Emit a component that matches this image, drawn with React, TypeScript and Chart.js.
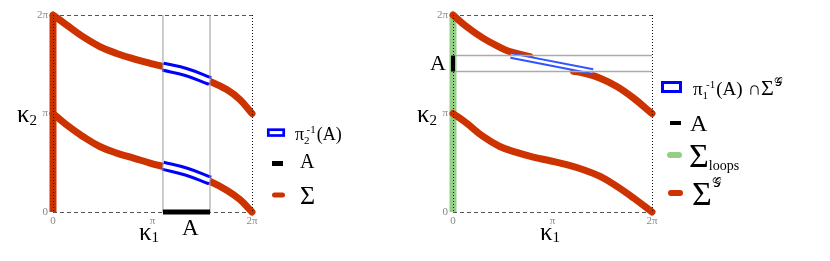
import React, { useEffect, useRef } from "react";
import { Chart, registerables } from "chart.js";
Chart.register(...registerables);

const SERIF = '"Liberation Serif", "Times New Roman", Times, serif';
const RED = "#cc3300";
const BLUE = "#0000ff";
const BLUE2 = "#2f55ff";
const GREEN = "#93cf84";
const GRAY = "#aaaaaa";

// all values are in units of π
const tickValues = [0, 1, 2];
const tickLabels = ["0", "π", "2π"];

// ---- left panel ----
const leftX = [0, 0.135, 0.3, 0.47, 0.64, 0.81, 0.975, 1.11, 1.31, 1.58, 1.75, 1.88, 2.0];
const leftUpperY = [2.0, 1.9, 1.78, 1.68, 1.61, 1.555, 1.51, 1.477, 1.426, 1.325, 1.24, 1.14, 1.0];
const leftLowerY = [1.0, 0.885, 0.767, 0.665, 0.598, 0.548, 0.497, 0.462, 0.412, 0.31, 0.219, 0.125, 0.0];
const leftA = [1.105, 1.578];
const leftBandX = [1.105, 1.34, 1.578];
const leftBandUpperY = [1.476, 1.42, 1.33];
const leftBandLowerY = [0.47, 0.41, 0.32];

// ---- right panel ----
const rightUpperAX = [0, 0.135, 0.302, 0.47, 0.571, 0.773];
const rightUpperAY = [2.0, 1.883, 1.765, 1.673, 1.629, 1.578];
const rightUpperBX = [1.21, 1.31, 1.479, 1.647, 1.815, 2.0];
const rightUpperBY = [1.429, 1.41, 1.359, 1.274, 1.156, 1.0];
const rightLowerX = [0, 0.135, 0.302, 0.47, 0.638, 0.806, 0.974, 1.142, 1.31, 1.479, 1.647, 1.815, 2.0];
const rightLowerY = [1.0, 0.903, 0.767, 0.665, 0.605, 0.558, 0.52, 0.48, 0.429, 0.361, 0.26, 0.142, 0.0];
const rightA = [1.426, 1.588];
const rightBandX = [0.581, 1.405];
const rightBandY = [1.588, 1.426];

const pts = (xs: number[], ys: number[]) => xs.map((x, i) => ({ x, y: ys[i] }));

function line(data: any[], color: string, width: number, order: number, opts: any = {}) {
  return {
    type: "line",
    data,
    borderColor: color,
    backgroundColor: color,
    borderWidth: width,
    pointRadius: 0,
    pointHoverRadius: 0,
    fill: false,
    clip: false,
    order,
    tension: 0,
    borderCapStyle: "butt",
    ...opts,
  };
}
const curve = (data: any[], order: number) =>
  line(data, RED, 7, order, { tension: 0.4, borderCapStyle: "round" });

type Run = { t: string; size: number; dy?: number; dx?: number };
function runs(ctx: CanvasRenderingContext2D, x: number, y: number, list: Run[], color = "#000") {
  ctx.save();
  ctx.fillStyle = color;
  ctx.textBaseline = "alphabetic";
  ctx.textAlign = "left";
  let cx = x;
  for (const r of list) {
    ctx.font = `${r.size}px ${SERIF}`;
    cx += r.dx ?? 0;
    ctx.fillText(r.t, cx, y + (r.dy ?? 0));
    cx += ctx.measureText(r.t).width;
  }
  ctx.restore();
}

function markLine(ctx: CanvasRenderingContext2D, x1: number, x2: number, y: number, w: number, color: string) {
  ctx.save();
  ctx.strokeStyle = color;
  ctx.lineWidth = w;
  ctx.lineCap = "round";
  ctx.beginPath();
  ctx.moveTo(x1, y);
  ctx.lineTo(x2, y);
  ctx.stroke();
  ctx.restore();
}

function makeDecor(extra: (ctx: CanvasRenderingContext2D, chart: any) => void) {
  return {
    id: "decor",
    beforeDatasetsDraw(chart: any) {
      const { ctx, chartArea } = chart;
      const { left, right, top, bottom } = chartArea;
      ctx.save();
      ctx.strokeStyle = "#555";
      ctx.lineWidth = 1;
      ctx.setLineDash([4, 3]);
      ctx.beginPath();
      ctx.moveTo(left, Math.round(top) + 0.5);
      ctx.lineTo(right, Math.round(top) + 0.5);
      ctx.moveTo(left, Math.round(bottom) + 0.5);
      ctx.lineTo(right, Math.round(bottom) + 0.5);
      ctx.stroke();
      ctx.restore();
    },
    afterDatasetsDraw(chart: any) {
      const { ctx, chartArea } = chart;
      const { left, right, top, bottom } = chartArea;
      ctx.save();
      ctx.strokeStyle = "#111";
      ctx.lineWidth = 1;
      ctx.setLineDash([1, 2]);
      ctx.beginPath();
      ctx.moveTo(Math.round(left) + 0.5, top);
      ctx.lineTo(Math.round(left) + 0.5, bottom);
      ctx.moveTo(Math.round(right) + 0.5, top);
      ctx.lineTo(Math.round(right) + 0.5, bottom);
      ctx.stroke();
      ctx.restore();
    },
    afterDraw(chart: any) {
      extra(chart.ctx, chart);
    },
  };
}

function axis(kind: "x" | "y", size: number) {
  return {
    type: "linear",
    min: 0,
    max: 2,
    afterBuildTicks: (s: any) => {
      s.ticks = tickValues.map((v) => ({ value: v }));
    },
    afterFit: (s: any) => {
      if (kind === "x") s.height = size;
      else s.width = size;
    },
    ticks: {
      callback: (v: number) => tickLabels[tickValues.indexOf(v)] ?? "",
      font: { family: SERIF, size: 11 },
      color: "#888",
      padding: kind === "x" ? 3 : 5,
      maxRotation: 0,
      autoSkip: false,
    },
    grid: { display: false, drawTicks: false },
    border: { display: false },
  };
}

function baseOptions(yWidth: number, rightPad: number) {
  return {
    responsive: false,
    animation: false,
    devicePixelRatio: 1,
    events: [],
    layout: { padding: { top: 15, left: 0, right: rightPad, bottom: 0 } },
    plugins: { legend: { display: false }, tooltip: { enabled: false } },
    scales: { x: axis("x", 49), y: axis("y", yWidth) },
  };
}

function leftConfig(): any {
  const band = { tension: 0.4 };
  const datasets = [
    line([{ x: 0, y: 0 }, { x: 0, y: 2 }], RED, 7, 20),
    curve(pts(leftX, leftUpperY), 15),
    curve(pts(leftX, leftLowerY), 15),
    line(pts(leftBandX, leftBandUpperY), BLUE, 10, 10, band),
    line(pts(leftBandX, leftBandLowerY), BLUE, 10, 10, band),
    line(pts(leftBandX, leftBandUpperY), "#ffffff", 4, 9, band),
    line(pts(leftBandX, leftBandLowerY), "#ffffff", 4, 9, band),
    line([{ x: leftA[0], y: 0 }, { x: leftA[0], y: 2 }], "#999", 1, 5),
    line([{ x: leftA[1], y: 0 }, { x: leftA[1], y: 2 }], "#999", 1, 5),
    line([{ x: leftA[0], y: 0 }, { x: leftA[1], y: 0 }], "#000", 5, 2),
  ];
  const extra = (ctx: CanvasRenderingContext2D) => {
    runs(ctx, 17, 121.5, [{ t: "κ", size: 25 }, { t: "2", size: 15, dy: 3.5 }]);
    runs(ctx, 139, 239.5, [{ t: "κ", size: 25 }, { t: "1", size: 15, dy: 2.5 }]);
    runs(ctx, 182, 235, [{ t: "A", size: 23 }]);
    // legend
    ctx.save();
    ctx.strokeStyle = BLUE;
    ctx.lineWidth = 2.7;
    ctx.strokeRect(268.3, 129.7, 15.4, 5.8);
    ctx.restore();
    runs(ctx, 295, 140, [
      { t: "π", size: 18 },
      { t: "2", size: 11, dy: 4 },
      { t: "-1", size: 11, dy: -7, dx: -3 },
      { t: "(A)", size: 18, dx: 1 },
    ]);
    ctx.fillStyle = "#000";
    ctx.fillRect(272, 161, 11, 5);
    runs(ctx, 300, 168, [{ t: "A", size: 20 }]);
    markLine(ctx, 274.5, 282.5, 195, 5, RED);
    runs(ctx, 300, 204, [{ t: "Σ", size: 26 }]);
  };
  return {
    type: "line",
    data: { datasets },
    options: baseOptions(53, 410 - 252),
    plugins: [makeDecor(extra)],
  };
}

function rightConfig(): any {
  const OX = 410;
  const datasets = [
    line([{ x: 0, y: 0 }, { x: 0, y: 2 }], GREEN, 7, 20),
    curve(pts(rightUpperAX, rightUpperAY), 15),
    curve(pts(rightUpperBX, rightUpperBY), 15),
    curve(pts(rightLowerX, rightLowerY), 15),
    line(pts(rightBandX, rightBandY), BLUE2, 6.5, 10),
    line(pts(rightBandX, rightBandY), "#ffffff", 2.5, 9),
    line([{ x: 0, y: rightA[0] }, { x: 2, y: rightA[0] }], GRAY, 1.5, 5),
    line([{ x: 0, y: rightA[1] }, { x: 2, y: rightA[1] }], GRAY, 1.5, 5),
    line([{ x: 0, y: rightA[0] }, { x: 0, y: rightA[1] }], "#000", 4, 2),
  ];
  const extra = (ctx: CanvasRenderingContext2D) => {
    runs(ctx, 417 - OX, 121.5, [{ t: "κ", size: 25 }, { t: "2", size: 15, dy: 3.5 }]);
    runs(ctx, 540 - OX, 239.5, [{ t: "κ", size: 25 }, { t: "1", size: 15, dy: 2.5 }]);
    runs(ctx, 430 - OX, 70, [{ t: "A", size: 22 }]);
    // legend
    ctx.save();
    ctx.strokeStyle = BLUE;
    ctx.lineWidth = 3;
    ctx.strokeRect(662.5 - OX, 82.5, 18, 9);
    ctx.restore();
    runs(ctx, 693 - OX, 95, [
      { t: "π", size: 19 },
      { t: "1", size: 11, dy: 4 },
      { t: "-1", size: 11, dy: -7, dx: -2 },
      { t: "(A)", size: 19, dx: 1 },
      { t: " ∩", size: 19 },
      { t: "Σ", size: 22 },
      { t: "𝒢", size: 12, dy: -9 },
    ]);
    ctx.fillStyle = "#000";
    ctx.fillRect(670 - OX, 121, 11, 4);
    runs(ctx, 690 - OX, 131, [{ t: "A", size: 24 }]);
    markLine(ctx, 670 - OX, 679 - OX, 155, 6, GREEN);
    runs(ctx, 689 - OX, 167, [{ t: "Σ", size: 34 }, { t: "loops", size: 14, dy: 3 }]);
    markLine(ctx, 671 - OX, 680 - OX, 193, 6, RED);
    runs(ctx, 692 - OX, 205, [{ t: "Σ", size: 34 }, { t: "𝒢", size: 13, dy: -18 }]);
  };
  return {
    type: "line",
    data: { datasets },
    options: baseOptions(453 - OX, 830 - 652),
    plugins: [makeDecor(extra)],
  };
}

function Panel({ left, width, make }: { left: number; width: number; make: () => any }) {
  const ref = useRef<HTMLCanvasElement | null>(null);
  useEffect(() => {
    if (!ref.current) return;
    const chart = new Chart(ref.current, make());
    return () => chart.destroy();
  }, []);
  return (
    <canvas
      ref={ref}
      width={width}
      height={261}
      style={{ position: "absolute", left, top: 0, width, height: 261 }}
    />
  );
}

export default function App() {
  return (
    <div style={{ position: "fixed", left: 0, top: 0, width: 830, height: 261, background: "#fff", overflow: "hidden" }}>
      <Panel left={0} width={410} make={leftConfig} />
      <Panel left={410} width={420} make={rightConfig} />
    </div>
  );
}
